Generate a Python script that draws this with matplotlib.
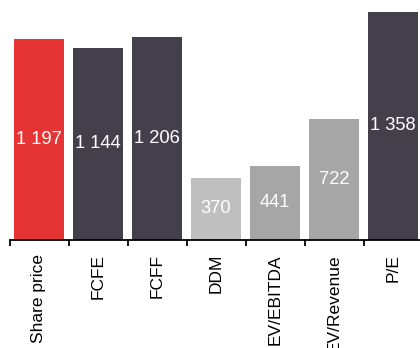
import numpy as np
import matplotlib.pyplot as plt
import matplotlib.ticker as mticker

categories = ["Share price", "FCFE", "FCFF", "DDM", "EV/EBITDA", "EV/Revenue", "P/E"]
values = [1197, 1144, 1206, 370, 441, 722, 1358]
colors = ["#E63334", "#43404B", "#43404B", "#BFBFBF", "#A6A6A6", "#A6A6A6", "#43404B"]

plt.rcParams["font.family"] = ["Liberation Sans", "DejaVu Sans"]

fig = plt.figure(figsize=(4.2, 3.48), dpi=100)
ax = fig.add_axes([9.5 / 420, 108 / 348, 413 / 420, 240 / 348])

x = np.arange(len(categories))
ax.bar(x, values, width=0.85, color=colors, zorder=2)

# value in the middle of each bar, space as thousands separator
for xi, v in zip(x, values):
    label = f"{v:,}".replace(",", " ")
    ax.text(xi, v / 2, label, ha="center", va="center", color="white",
            fontsize=13.2, zorder=3)

ax.set_xlim(-0.5, len(categories) - 0.5)
ax.set_ylim(0, 1429)

for side in ["top", "right", "left"]:
    ax.spines[side].set_visible(False)
ax.spines["bottom"].set_linewidth(1.3)
ax.spines["bottom"].set_color("black")
ax.set_yticks([])

# boundary ticks between categories, labels at bar centres
ax.xaxis.set_major_locator(mticker.FixedLocator(x - 0.5))
ax.xaxis.set_major_formatter(mticker.NullFormatter())
ax.xaxis.set_minor_locator(mticker.FixedLocator(x))
ax.xaxis.set_minor_formatter(mticker.FixedFormatter(categories))
ax.tick_params(axis="x", which="major", direction="out", length=4.5, width=1.3, color="black")
ax.tick_params(axis="x", which="minor", length=0, pad=10, labelsize=12.5,
               labelrotation=90, labelcolor="black")
for lbl in ax.get_xticklabels(minor=True):
    lbl.set_va("top")
    lbl.set_ha("center")

fig.savefig("out.png", dpi=100)
